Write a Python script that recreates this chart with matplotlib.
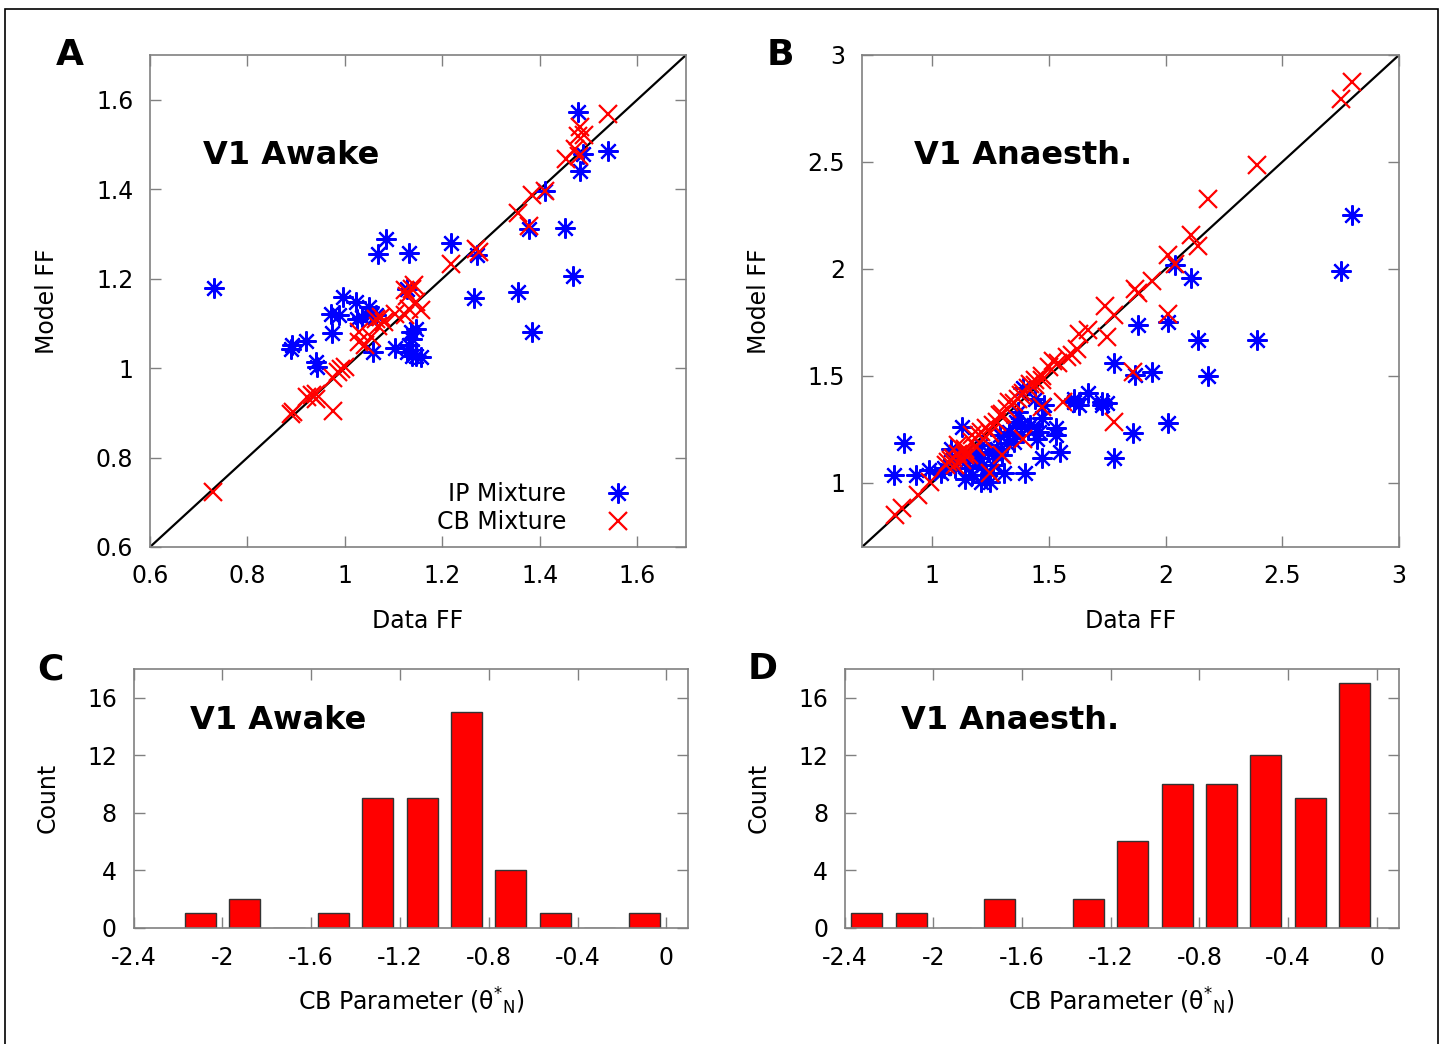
import matplotlib
matplotlib.use("Agg")
import matplotlib.pyplot as plt
from matplotlib.patches import Rectangle
import numpy as np

plt.rcParams['font.family'] = ['DejaVu Sans']
plt.rcParams['axes.unicode_minus'] = False

# ---------------- Data ----------------
# Panel A: V1 Awake (Data FF vs Model FF)
awake_ip_x = [0.731, 1.478, 1.540, 1.489, 1.482, 1.410, 1.377, 1.452, 1.468, 1.356,
              1.264, 1.383, 1.217, 1.085, 1.067, 1.132, 1.271, 1.127, 0.996, 1.023,
              1.049, 0.972, 0.988, 1.035, 1.064, 0.973, 1.057, 1.103, 1.135, 1.145,
              1.131, 1.138, 1.156, 1.127, 0.891, 0.890, 0.920, 0.940, 0.943, 1.145,
              1.138, 1.053, 1.025]
awake_ip_y = [1.180, 1.573, 1.485, 1.479, 1.441, 1.397, 1.311, 1.313, 1.207, 1.170,
              1.157, 1.081, 1.279, 1.289, 1.255, 1.257, 1.253, 1.177, 1.159, 1.148,
              1.136, 1.121, 1.119, 1.114, 1.118, 1.078, 1.036, 1.045, 1.081, 1.088,
              1.051, 1.028, 1.025, 1.036, 1.051, 1.043, 1.060, 1.014, 1.002, 1.028,
              1.066, 1.118, 1.110]
awake_cb_x = [0.729, 1.540, 1.482, 1.491, 1.473, 1.453, 1.480, 1.411, 1.383, 1.356,
              1.377, 1.269, 1.276, 1.218, 1.138, 1.127, 1.145, 1.132, 1.124, 1.156,
              1.103, 1.081, 1.064, 1.067, 1.028, 1.053, 1.028, 1.042, 0.993, 0.986,
              0.975, 0.933, 0.940, 0.922, 0.894, 0.889, 0.975, 1.478, 1.124, 1.074,
              0.941, 1.000, 1.142]
awake_cb_y = [0.723, 1.568, 1.538, 1.521, 1.490, 1.468, 1.475, 1.395, 1.386, 1.346,
              1.317, 1.267, 1.259, 1.233, 1.177, 1.162, 1.148, 1.133, 1.118, 1.129,
              1.121, 1.103, 1.110, 1.095, 1.080, 1.069, 1.058, 1.051, 0.999, 0.991,
              0.978, 0.939, 0.932, 0.935, 0.902, 0.898, 0.903, 1.519, 1.174, 1.114,
              0.943, 1.002, 1.185]

# Panel B: V1 Anaesthetised
anaes_ip_x = [2.80, 2.75, 2.39, 2.18, 2.11, 2.04, 2.14, 2.01, 1.88, 1.78,
              1.87, 1.94, 2.01, 1.86, 1.78, 1.67, 1.75, 1.73, 1.61, 1.63,
              1.53, 1.55, 1.47, 1.40, 1.46, 1.42, 1.38, 1.33, 1.32, 1.27,
              1.25, 1.31, 1.22, 1.14, 1.13, 1.08, 1.05, 0.985, 0.933, 0.837,
              0.882, 1.04, 1.16, 1.20, 1.24, 1.19, 1.21, 1.29, 1.36, 1.41,
              1.48, 1.44, 1.39, 1.47, 1.53, 1.35, 1.26, 1.14, 1.10, 1.17,
              1.23, 1.30, 1.36, 1.45, 1.61, 1.73, 1.11, 1.21, 1.28, 1.37]
anaes_ip_y = [2.251, 1.989, 1.667, 1.500, 1.958, 2.017, 1.667, 1.752, 1.740, 1.558,
              1.503, 1.516, 1.282, 1.231, 1.117, 1.422, 1.371, 1.363, 1.394, 1.363,
              1.254, 1.145, 1.114, 1.044, 1.238, 1.269, 1.269, 1.238, 1.184, 1.137,
              1.005, 1.044, 1.083, 1.020, 1.262, 1.160, 1.067, 1.059, 1.036, 1.036,
              1.184, 1.044, 1.067, 1.114, 1.145, 1.137, 1.176, 1.223, 1.285, 1.254,
              1.363, 1.394, 1.441, 1.301, 1.223, 1.192, 1.083, 1.098, 1.067, 1.036,
              1.036, 1.129, 1.223, 1.207, 1.379, 1.379, 1.129, 1.005, 1.160, 1.332]
anaes_cb_x = [2.80, 2.75, 2.39, 2.18, 2.11, 2.14, 2.01, 2.04, 1.94, 1.87,
              1.88, 1.74, 1.78, 2.01, 1.63, 1.67, 1.75, 1.62, 1.60, 1.54,
              1.52, 1.86, 1.47, 1.44, 1.41, 1.39, 1.37, 1.56, 1.78, 1.47,
              1.32, 1.29, 1.26, 1.23, 1.20, 1.17, 1.14, 1.11, 1.08, 1.06,
              1.10, 1.13, 1.16, 1.19, 1.22, 1.25, 1.28, 1.30, 1.35, 1.38,
              1.42, 1.39, 1.30, 1.25, 0.99, 0.94, 0.87, 0.84, 1.11, 1.14,
              1.07, 1.21, 1.33, 1.44, 1.50, 1.58, 1.47, 1.14, 1.09, 1.17]
anaes_cb_y = [2.874, 2.793, 2.484, 2.326, 2.157, 2.107, 2.064, 2.025, 1.944, 1.908,
              1.889, 1.827, 1.783, 1.791, 1.698, 1.713, 1.682, 1.625, 1.597, 1.558,
              1.569, 1.519, 1.500, 1.480, 1.441, 1.422, 1.394, 1.379, 1.285, 1.355,
              1.347, 1.316, 1.269, 1.254, 1.223, 1.192, 1.160, 1.137, 1.106, 1.083,
              1.083, 1.106, 1.129, 1.168, 1.207, 1.231, 1.285, 1.324, 1.371, 1.410,
              1.464, 1.207, 1.129, 1.044, 1.005, 0.942, 0.880, 0.849, 1.176, 1.145,
              1.098, 1.238, 1.379, 1.456, 1.542, 1.589, 1.480, 1.129, 1.114, 1.223]

# Panels C, D: histograms of CB parameter
awake_bins = [-2.1, -1.9, -1.7, -1.5, -1.3, -1.1, -0.9, -0.7, -0.5, -0.3, -0.1]
awake_counts = [1, 2, 0, 1, 9, 9, 15, 4, 1, 0, 1]
anaes_bins = [-2.3, -2.1, -1.9, -1.7, -1.5, -1.3, -1.1, -0.9, -0.7, -0.5, -0.3, -0.1]
anaes_counts = [1, 1, 0, 2, 0, 2, 6, 10, 10, 12, 9, 17]

fs_tick = 17
fs_lab = 17
fs_title = 23
fs_letter = 26
spine_col = '#808080'

W, H = 1443, 1044
fig = plt.figure(figsize=(W / 100, H / 100), dpi=100)


def px_axes(l, r, t, b):
    return fig.add_axes([l / W, 1 - b / H, (r - l) / W, (b - t) / H])


def style(ax):
    for s in ax.spines.values():
        s.set_color(spine_col)
        s.set_linewidth(1.2)
    ax.tick_params(direction='in', length=8, width=1.0, color=spine_col,
                   top=True, right=True, labelsize=fs_tick, pad=12)


axA = px_axes(150, 686, 55, 547)
axB = px_axes(862, 1399, 55, 547)
axC = px_axes(133.6, 688.5, 669, 927.7)
axD = px_axes(844.7, 1399, 669, 927.7)

ast = (8, 2, 0)
ms_ast = 14.5
ms_x = 13.5
mew = 1.6

# Panel A
axA.plot([0.6, 1.7], [0.6, 1.7], color='black', lw=1.6, zorder=1)
axA.plot(awake_ip_x, awake_ip_y, linestyle='none', marker=ast, ms=ms_ast, mew=mew,
         color='#0000ff', label='IP Mixture', zorder=2)
axA.plot(awake_cb_x, awake_cb_y, linestyle='none', marker='x', ms=ms_x, mew=mew,
         color='#ff0000', label='CB Mixture', zorder=3)
axA.set_xlim(0.6, 1.7)
axA.set_ylim(0.6, 1.7)
axA.set_xticks([0.6, 0.8, 1.0, 1.2, 1.4, 1.6])
axA.set_xticklabels(['0.6', '0.8', '1', '1.2', '1.4', '1.6'])
axA.set_yticks([0.6, 0.8, 1.0, 1.2, 1.4, 1.6])
axA.set_yticklabels(['0.6', '0.8', '1', '1.2', '1.4', '1.6'])
style(axA)
axA.text(0.099, 0.795, 'V1 Awake', transform=axA.transAxes, fontsize=fs_title,
         fontweight='bold', ha='left', va='center')
leg = axA.legend(loc='lower right', bbox_to_anchor=((641.6 - 150) / 536, (547 - 534) / 492),
                 frameon=False, markerfirst=False, fontsize=fs_lab, handlelength=2.0,
                 handletextpad=1.2, borderpad=0, borderaxespad=0, labelspacing=0.15)

# Panel B
axB.plot([0.7, 3.0], [0.7, 3.0], color='black', lw=1.6, zorder=1)
axB.plot(anaes_ip_x, anaes_ip_y, linestyle='none', marker=ast, ms=ms_ast, mew=mew,
         color='#0000ff', zorder=2)
axB.plot(anaes_cb_x, anaes_cb_y, linestyle='none', marker='x', ms=ms_x, mew=mew,
         color='#ff0000', zorder=3)
axB.set_xlim(0.7, 3.0)
axB.set_ylim(0.7, 3.0)
axB.set_xticks([1, 1.5, 2, 2.5, 3])
axB.set_xticklabels(['1', '1.5', '2', '2.5', '3'])
axB.set_yticks([1, 1.5, 2, 2.5, 3])
axB.set_yticklabels(['1', '1.5', '2', '2.5', '3'])
style(axB)
axB.text(0.097, 0.795, 'V1 Anaesth.', transform=axB.transAxes, fontsize=fs_title,
         fontweight='bold', ha='left', va='center')

for ax in (axA, axB):
    ax.set_xlabel('Data FF', fontsize=fs_lab)
    ax.set_ylabel('Model FF', fontsize=fs_lab)
    ax.xaxis.set_label_coords(0.5, -0.15)
    ax.xaxis.label.set_verticalalignment('center')
    ax.yaxis.set_label_coords(-0.192, 0.5)
    ax.yaxis.label.set_verticalalignment('center')

# Panels C, D
xt = [-2.4, -2.0, -1.6, -1.2, -0.8, -0.4, 0.0]
xtl = ['-2.4', '-2', '-1.6', '-1.2', '-0.8', '-0.4', '0']
for ax, bins, counts, title in ((axC, awake_bins, awake_counts, 'V1 Awake'),
                                (axD, anaes_bins, anaes_counts, 'V1 Anaesth.')):
    ax.bar(bins, counts, width=0.14, color='#ff0000', edgecolor='#333333', linewidth=1.0)
    ax.set_xlim(-2.4, 0.1)
    ax.set_ylim(0, 18)
    ax.set_xticks(xt)
    ax.set_xticklabels(xtl)
    ax.set_yticks([0, 4, 8, 12, 16])
    style(ax)
    ax.tick_params(axis='x', pad=13)
    ax.text(0.102, 0.80, title, transform=ax.transAxes, fontsize=fs_title,
            fontweight='bold', ha='left', va='center')
    ax.set_ylabel('Count', fontsize=fs_lab)
    ax.yaxis.set_label_coords(-0.155, 0.5)
    ax.yaxis.label.set_verticalalignment('center')
    ax.set_xlabel('CB Parameter (θ$^{*}$$_{\\mathrm{N}}$)', fontsize=fs_lab)
    ax.xaxis.set_label_coords(0.5, -0.285)
    ax.xaxis.label.set_verticalalignment('center')

# Panel letters
for lbl, x, y in (('A', 70, 55), ('B', 780, 55), ('C', 50, 669), ('D', 763, 669)):
    fig.text(x / W, 1 - y / H, lbl, fontsize=fs_letter, fontweight='bold',
             ha='center', va='center')

# Outer frame
fig.patches.append(Rectangle((5 / W, -0.02), (1437.5 - 5) / W, 1 - 9.3 / H + 0.02,
                             transform=fig.transFigure, fill=False, edgecolor='black',
                             linewidth=1.2))

fig.savefig('out.png', dpi=100, facecolor='white')
